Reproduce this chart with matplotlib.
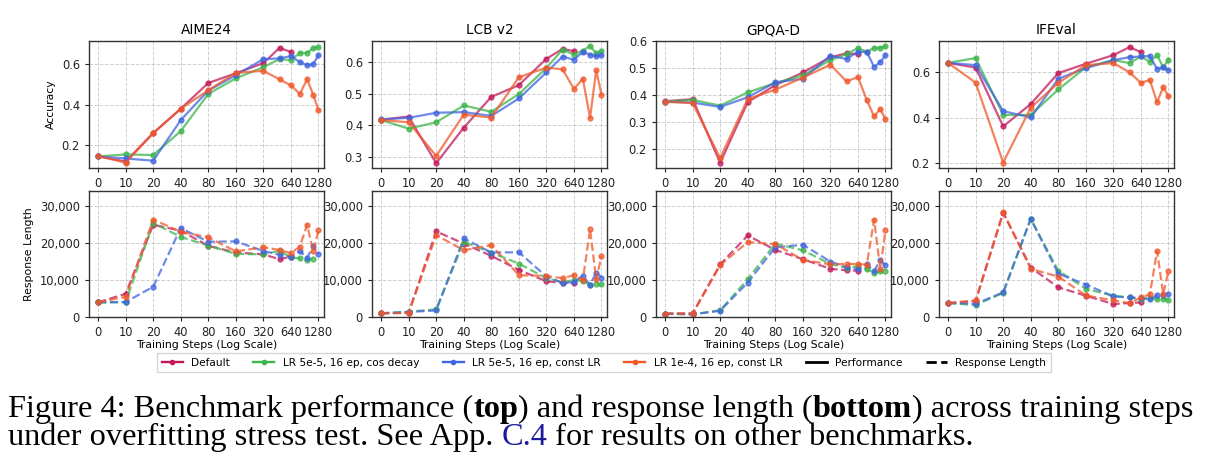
import numpy as np
import matplotlib
matplotlib.use('Agg')
from matplotlib import pyplot as plt
from matplotlib.lines import Line2D
from matplotlib.ticker import FuncFormatter

plt.rcParams['font.family'] = ['DejaVu Sans']

nan = np.nan
steps = [0, 10, 20, 40, 80, 160, 320, 480, 640, 800, 960, 1120, 1280]
tick_steps = [0, 10, 20, 40, 80, 160, 320, 640, 1280]
benchmarks = ['AIME24', 'LCB v2', 'GPQA-D', 'IFEval']
series_names = ['Default', 'LR 5e-5, 16 ep, cos decay', 'LR 5e-5, 16 ep, const LR', 'LR 1e-4, 16 ep, const LR']
colors = ['#c2185b', '#3cb54a', '#4065e0', '#f0582a']

# accuracy (top row); Default stops at step 640
acc_default = {
    'AIME24': [0.145, 0.12, 0.26, 0.38, 0.507, 0.555, 0.605, 0.68, 0.66],
    'LCB v2': [0.418, 0.428, 0.281, 0.393, 0.49, 0.527, 0.61, 0.641, 0.634],
    'GPQA-D': [0.376, 0.384, 0.147, 0.373, 0.436, 0.483, 0.54, 0.554, 0.551],
    'IFEval': [0.641, 0.62, 0.362, 0.46, 0.596, 0.637, 0.675, 0.71, 0.688],
}
acc_cos = {
    'AIME24': [0.145, 0.155, 0.152, 0.27, 0.453, 0.53, 0.585, 0.625, 0.62, 0.655, 0.655, 0.68, 0.685],
    'LCB v2': [0.417, 0.39, 0.41, 0.463, 0.443, 0.499, 0.581, 0.639, 0.623, 0.636, 0.65, 0.627, 0.634],
    'GPQA-D': [0.375, 0.381, 0.36, 0.409, 0.444, 0.472, 0.529, 0.551, 0.574, 0.56, 0.574, 0.574, 0.581],
    'IFEval': [0.641, 0.662, 0.412, 0.412, 0.524, 0.622, 0.653, 0.64, 0.669, 0.646, 0.674, 0.622, 0.654],
}
acc_const = {
    'AIME24': [0.145, 0.135, 0.124, 0.324, 0.47, 0.545, 0.625, 0.628, 0.64, 0.61, 0.595, 0.6, 0.645],
    'LCB v2': [0.419, 0.424, 0.44, 0.442, 0.43, 0.485, 0.567, 0.617, 0.607, 0.632, 0.623, 0.618, 0.621],
    'GPQA-D': [0.375, 0.371, 0.355, 0.391, 0.446, 0.46, 0.545, 0.533, 0.56, 0.559, 0.504, 0.521, 0.547],
    'IFEval': [0.641, 0.631, 0.429, 0.401, 0.571, 0.618, 0.653, 0.666, 0.669, 0.671, 0.615, 0.621, 0.609],
}
acc_hi = {
    'AIME24': [0.148, 0.114, 0.26, 0.38, 0.471, 0.557, 0.567, 0.525, 0.495, 0.453, 0.525, 0.45, 0.372],
    'LCB v2': [0.417, 0.41, 0.304, 0.434, 0.425, 0.552, 0.582, 0.577, 0.515, 0.547, 0.424, 0.574, 0.497],
    'GPQA-D': [0.374, 0.369, 0.165, 0.384, 0.419, 0.464, 0.512, 0.45, 0.466, 0.38, 0.32, 0.347, 0.309],
    'IFEval': [0.641, 0.554, 0.203, 0.444, 0.553, 0.631, 0.64, 0.599, 0.553, 0.566, 0.468, 0.534, 0.494],
}

# response length (bottom row)
len_default = {
    'AIME24': [3940, 6270, 24900, 23280, 19200, 17400, 16900, 15600, 16300],
    'LCB v2': [1000, 1160, 23100, 19800, 16500, 12700, 9640, 9200, 9200],
    'GPQA-D': [900, 1000, 14200, 22000, 18100, 15600, 13000, 12600, 12500],
    'IFEval': [3760, 4300, 28100, 13340, 8000, 5730, 3500, 3760, 3940],
}
len_cos = {
    'AIME24': [3940, 4030, 25400, 21600, 19280, 17040, 16900, 17850, 16100, 15800, 15400, 15700, nan],
    'LCB v2': [1000, 1430, 2060, 20300, 17370, 14400, 10470, 9400, 10000, 9650, 8700, 8860, 8860],
    'GPQA-D': [900, 720, 1800, 10200, 19800, 18000, 14300, 13250, 13700, 12900, 12000, 12300, 12350],
    'IFEval': [3760, 3220, 6540, 26500, 12500, 7600, 5730, 5280, 4920, 5100, 4920, 4920, 4650],
}
len_const = {
    'AIME24': [3940, 4030, 8150, 24000, 20300, 20400, 17800, 16800, 16200, 17800, 15900, 19200, 17000],
    'LCB v2': [1000, 1340, 1790, 21200, 17400, 17460, 10920, 9200, 9400, 11100, 8700, 12000, 10650],
    'GPQA-D': [900, 720, 1700, 9300, 18800, 19500, 14950, 13500, 12900, 14200, 12400, 15300, 14000],
    'IFEval': [3760, 3580, 6620, 26500, 11700, 8760, 5550, 5280, 5100, 4740, 5900, 6000, 6180],
}
len_hi = {
    'AIME24': [3940, 5460, 26300, 23000, 21500, 17700, 18800, 18100, 17200, 19000, 24900, 17700, 23400],
    'LCB v2': [1000, 1070, 22100, 18000, 19400, 11270, 11100, 10470, 11280, 9940, 23700, 10120, 16470],
    'GPQA-D': [900, 900, 14000, 20200, 19700, 15400, 14200, 14300, 14300, 14100, 26300, 13000, 23400],
    'IFEval': [3760, 4480, 28300, 12980, 10900, 5820, 4480, 3760, 5280, 6090, 17800, 6180, 12440],
}

acc_series = [acc_default, acc_cos, acc_const, acc_hi]
len_series = [len_default, len_cos, len_const, len_hi]

acc_ylim = {'AIME24': (0.088, 0.714), 'LCB v2': (0.266, 0.666), 'GPQA-D': (0.128, 0.6), 'IFEval': (0.179, 0.737)}
acc_yticks = {'AIME24': [0.2, 0.4, 0.6], 'LCB v2': [0.3, 0.4, 0.5, 0.6],
              'GPQA-D': [0.2, 0.3, 0.4, 0.5, 0.6], 'IFEval': [0.2, 0.4, 0.6]}


# x axis: linear from 0 to 10, then log2 (each doubling = one tick)
def fwd(s):
    s = np.asarray(s, dtype=float)
    return np.where(s <= 10, s / 10.0, np.log2(np.maximum(s, 10) / 10.0) + 1)


def inv(p):
    p = np.asarray(p, dtype=float)
    return np.where(p <= 1, p * 10.0, 10.0 * 2 ** (np.minimum(p, 20) - 1))


def style_ax(ax):
    ax.set_xscale('function', functions=(fwd, inv))
    ax.set_xlim(-3.3, 1470)
    ax.set_xticks(tick_steps)
    ax.set_xticklabels([str(s) for s in tick_steps])
    ax.grid(True, linestyle='--', color='#b0b0b0', alpha=0.6, linewidth=0.7)
    ax.tick_params(labelsize=8.3, length=3, width=0.8, colors='#222222')
    for sp in ax.spines.values():
        sp.set_color('#333333')
        sp.set_linewidth(1.0)


fig = plt.figure(figsize=(12.18, 4.74), dpi=100)
W, H = 1218.0, 474.0
lefts = [89, 372, 656, 939]
aw = 235

for i, b in enumerate(benchmarks):
    ax = fig.add_axes([lefts[i] / W, 1 - 168 / H, aw / W, 127 / H])
    style_ax(ax)
    for k in range(4):
        y = acc_series[k][b]
        ax.plot(steps[:len(y)], y, '-', color=colors[k], marker='o', markersize=3.5,
                linewidth=1.6, alpha=0.75)
    ax.set_ylim(*acc_ylim[b])
    ax.set_yticks(acc_yticks[b])
    ax.set_title(b, fontsize=9.8, pad=5)
    if i == 0:
        ax.set_ylabel('Accuracy', fontsize=7.8)

    ax2 = fig.add_axes([lefts[i] / W, 1 - 317 / H, aw / W, 126 / H])
    style_ax(ax2)
    for k in range(4):
        y = len_series[k][b]
        ax2.plot(steps[:len(y)], y, '--', color=colors[k], marker='o', markersize=3.5,
                 linewidth=1.6, alpha=0.75)
    ax2.set_ylim(0, 34000)
    ax2.set_yticks([0, 10000, 20000, 30000])
    ax2.yaxis.set_major_formatter(FuncFormatter(lambda v, p: f'{int(v):,}'))
    ax2.set_xlabel('Training Steps (Log Scale)', fontsize=7.8, labelpad=1)
    if i == 0:
        ax2.set_ylabel('Response Length', fontsize=7.8)

handles = [Line2D([0], [0], color=c, marker='o', markersize=3, linewidth=1.7) for c in colors]
handles += [Line2D([0], [0], color='black', linewidth=2),
            Line2D([0], [0], color='black', linewidth=2, linestyle='--')]
labels = series_names + ['Performance', 'Response Length']
fig.legend(handles, labels, loc='center', bbox_to_anchor=(604 / W, 1 - 362.5 / H), ncol=6,
           fontsize=7.6, frameon=True, fancybox=False, edgecolor='#cccccc',
           handlelength=2.0, columnspacing=2.2, borderpad=0.45)

# caption
cap = fig.add_axes([0, 0, 1, 1])
cap.axis('off')
cap_font = dict(family='Liberation Serif', fontsize=23.3)


def rich_line(x, y, parts):
    t = cap.text(x, y, parts[0][0], transform=cap.transAxes, va='baseline',
                 fontweight=parts[0][1], color=parts[0][2], **cap_font)
    for s, w, c in parts[1:]:
        t = cap.annotate(s, xy=(1, 0), xycoords=t, va='bottom', ha='left',
                         fontweight=w, color=c, annotation_clip=False, **cap_font)


rich_line(8 / W, 1 - 417 / H, [
    ('Figure 4: Benchmark performance (', 'normal', 'black'),
    ('top', 'bold', 'black'),
    (') and response length (', 'normal', 'black'),
    ('bottom', 'bold', 'black'),
    (') across training steps', 'normal', 'black'),
])
rich_line(8 / W, 1 - 445 / H, [
    ('under overfitting stress test. See App. ', 'normal', 'black'),
    ('C.4', 'normal', '#1a1a9c'),
    (' for results on other benchmarks.', 'normal', 'black'),
])

plt.savefig('out.png', dpi=100)
